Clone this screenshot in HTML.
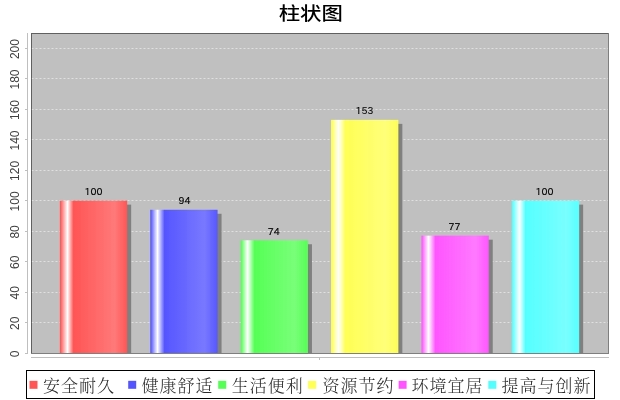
<!DOCTYPE html>
<html><head><meta charset="utf-8"><title>柱状图</title><style>
html,body{margin:0;padding:0;background:#fff;width:620px;height:400px;overflow:hidden}
svg{display:block;will-change:transform}
</style></head><body>
<svg width="620" height="400" viewBox="0 0 620 400">
<defs>
<linearGradient id="g0a" gradientUnits="userSpaceOnUse" x1="60.350" y1="0" x2="67.5" y2="0"><stop offset="0" stop-color="rgb(255,85,85)"/><stop offset="1" stop-color="#fff"/></linearGradient>
<linearGradient id="g0b" gradientUnits="userSpaceOnUse" x1="67.5" y1="0" x2="73.5" y2="0"><stop offset="0" stop-color="#fff"/><stop offset="1" stop-color="rgb(255,85,85)"/></linearGradient>
<linearGradient id="g0c" gradientUnits="userSpaceOnUse" x1="73.5" y1="0" x2="114.5" y2="0"><stop offset="0" stop-color="rgb(255,85,85)"/><stop offset="1" stop-color="rgb(255,121,121)"/></linearGradient>
<linearGradient id="g0d" gradientUnits="userSpaceOnUse" x1="114.5" y1="0" x2="127.667" y2="0"><stop offset="0" stop-color="rgb(255,121,121)"/><stop offset="1" stop-color="rgb(255,85,85)"/></linearGradient>
<linearGradient id="g1a" gradientUnits="userSpaceOnUse" x1="150.747" y1="0" x2="157.5" y2="0"><stop offset="0" stop-color="rgb(85,85,255)"/><stop offset="1" stop-color="#fff"/></linearGradient>
<linearGradient id="g1b" gradientUnits="userSpaceOnUse" x1="157.5" y1="0" x2="164.5" y2="0"><stop offset="0" stop-color="#fff"/><stop offset="1" stop-color="rgb(85,85,255)"/></linearGradient>
<linearGradient id="g1c" gradientUnits="userSpaceOnUse" x1="164.5" y1="0" x2="204.5" y2="0"><stop offset="0" stop-color="rgb(85,85,255)"/><stop offset="1" stop-color="rgb(121,121,255)"/></linearGradient>
<linearGradient id="g1d" gradientUnits="userSpaceOnUse" x1="204.5" y1="0" x2="218.063" y2="0"><stop offset="0" stop-color="rgb(121,121,255)"/><stop offset="1" stop-color="rgb(85,85,255)"/></linearGradient>
<linearGradient id="g2a" gradientUnits="userSpaceOnUse" x1="241.143" y1="0" x2="247.5" y2="0"><stop offset="0" stop-color="rgb(85,255,85)"/><stop offset="1" stop-color="#fff"/></linearGradient>
<linearGradient id="g2b" gradientUnits="userSpaceOnUse" x1="247.5" y1="0" x2="254.5" y2="0"><stop offset="0" stop-color="#fff"/><stop offset="1" stop-color="rgb(85,255,85)"/></linearGradient>
<linearGradient id="g2c" gradientUnits="userSpaceOnUse" x1="254.5" y1="0" x2="294.5" y2="0"><stop offset="0" stop-color="rgb(85,255,85)"/><stop offset="1" stop-color="rgb(121,255,121)"/></linearGradient>
<linearGradient id="g2d" gradientUnits="userSpaceOnUse" x1="294.5" y1="0" x2="308.460" y2="0"><stop offset="0" stop-color="rgb(121,255,121)"/><stop offset="1" stop-color="rgb(85,255,85)"/></linearGradient>
<linearGradient id="g3a" gradientUnits="userSpaceOnUse" x1="331.540" y1="0" x2="338.5" y2="0"><stop offset="0" stop-color="rgb(255,255,85)"/><stop offset="1" stop-color="#fff"/></linearGradient>
<linearGradient id="g3b" gradientUnits="userSpaceOnUse" x1="338.5" y1="0" x2="345.5" y2="0"><stop offset="0" stop-color="#fff"/><stop offset="1" stop-color="rgb(255,255,85)"/></linearGradient>
<linearGradient id="g3c" gradientUnits="userSpaceOnUse" x1="345.5" y1="0" x2="385.5" y2="0"><stop offset="0" stop-color="rgb(255,255,85)"/><stop offset="1" stop-color="rgb(255,255,121)"/></linearGradient>
<linearGradient id="g3d" gradientUnits="userSpaceOnUse" x1="385.5" y1="0" x2="398.857" y2="0"><stop offset="0" stop-color="rgb(255,255,121)"/><stop offset="1" stop-color="rgb(255,255,85)"/></linearGradient>
<linearGradient id="g4a" gradientUnits="userSpaceOnUse" x1="421.937" y1="0" x2="428.5" y2="0"><stop offset="0" stop-color="rgb(255,85,255)"/><stop offset="1" stop-color="#fff"/></linearGradient>
<linearGradient id="g4b" gradientUnits="userSpaceOnUse" x1="428.5" y1="0" x2="435.5" y2="0"><stop offset="0" stop-color="#fff"/><stop offset="1" stop-color="rgb(255,85,255)"/></linearGradient>
<linearGradient id="g4c" gradientUnits="userSpaceOnUse" x1="435.5" y1="0" x2="475.5" y2="0"><stop offset="0" stop-color="rgb(255,85,255)"/><stop offset="1" stop-color="rgb(255,121,255)"/></linearGradient>
<linearGradient id="g4d" gradientUnits="userSpaceOnUse" x1="475.5" y1="0" x2="489.253" y2="0"><stop offset="0" stop-color="rgb(255,121,255)"/><stop offset="1" stop-color="rgb(255,85,255)"/></linearGradient>
<linearGradient id="g5a" gradientUnits="userSpaceOnUse" x1="512.333" y1="0" x2="519.5" y2="0"><stop offset="0" stop-color="rgb(85,255,255)"/><stop offset="1" stop-color="#fff"/></linearGradient>
<linearGradient id="g5b" gradientUnits="userSpaceOnUse" x1="519.5" y1="0" x2="525.5" y2="0"><stop offset="0" stop-color="#fff"/><stop offset="1" stop-color="rgb(85,255,255)"/></linearGradient>
<linearGradient id="g5c" gradientUnits="userSpaceOnUse" x1="525.5" y1="0" x2="566.5" y2="0"><stop offset="0" stop-color="rgb(85,255,255)"/><stop offset="1" stop-color="rgb(121,255,255)"/></linearGradient>
<linearGradient id="g5d" gradientUnits="userSpaceOnUse" x1="566.5" y1="0" x2="579.650" y2="0"><stop offset="0" stop-color="rgb(121,255,255)"/><stop offset="1" stop-color="rgb(85,255,255)"/></linearGradient>
<filter id="jpg" filterUnits="userSpaceOnUse" x="-8" y="-8" width="636" height="416" color-interpolation-filters="sRGB">
<feColorMatrix in="SourceGraphic" type="matrix" values="0.3505 -0.2935 -0.057 0 0.501961  -0.1495 0.2065 -0.057 0 0.501961  -0.1495 -0.2935 0.443 0 0.501961  0 0 0 1 0" result="C"/>
<feGaussianBlur in="C" stdDeviation="0.8" result="CB"/>
<feColorMatrix in="SourceGraphic" type="matrix" values="0.299 0.587 0.114 0 0  0.299 0.587 0.114 0 0  0.299 0.587 0.114 0 0  0 0 0 1 0" result="Y"/>
<feComposite in="Y" in2="CB" operator="arithmetic" k1="0" k2="1" k3="2" k4="-1.003922"/>
</filter>
</defs>
<g filter="url(#jpg)"><rect x="-8" y="-8" width="636" height="416" fill="#fff"/>
<text transform="translate(310.8,19.5) scale(1.07,0.9)" text-anchor="middle" font-family='"Noto Sans CJK SC",sans-serif' font-size="20" font-weight="500" fill="#000">柱状图</text>
<rect x="31.0" y="33.0" width="577.0" height="320.0" fill="#c0c0c0"/>
<line x1="31.5" y1="322.5" x2="608.0" y2="322.5" stroke="#fff" stroke-opacity="0.5" stroke-width="1" stroke-dasharray="2 2"/>
<line x1="31.5" y1="292.5" x2="608.0" y2="292.5" stroke="#fff" stroke-opacity="0.5" stroke-width="1" stroke-dasharray="2 2"/>
<line x1="31.5" y1="261.5" x2="608.0" y2="261.5" stroke="#fff" stroke-opacity="0.5" stroke-width="1" stroke-dasharray="2 2"/>
<line x1="31.5" y1="231.5" x2="608.0" y2="231.5" stroke="#fff" stroke-opacity="0.5" stroke-width="1" stroke-dasharray="2 2"/>
<line x1="31.5" y1="200.5" x2="608.0" y2="200.5" stroke="#fff" stroke-opacity="0.5" stroke-width="1" stroke-dasharray="2 2"/>
<line x1="31.5" y1="170.5" x2="608.0" y2="170.5" stroke="#fff" stroke-opacity="0.5" stroke-width="1" stroke-dasharray="2 2"/>
<line x1="31.5" y1="139.5" x2="608.0" y2="139.5" stroke="#fff" stroke-opacity="0.5" stroke-width="1" stroke-dasharray="2 2"/>
<line x1="31.5" y1="109.5" x2="608.0" y2="109.5" stroke="#fff" stroke-opacity="0.5" stroke-width="1" stroke-dasharray="2 2"/>
<line x1="31.5" y1="78.5" x2="608.0" y2="78.5" stroke="#fff" stroke-opacity="0.5" stroke-width="1" stroke-dasharray="2 2"/>
<line x1="31.5" y1="48.5" x2="608.0" y2="48.5" stroke="#fff" stroke-opacity="0.5" stroke-width="1" stroke-dasharray="2 2"/>
<rect x="63.850" y="204.619" width="67.317" height="148.381" fill="#808080"/>
<rect x="154.247" y="213.762" width="67.317" height="139.238" fill="#808080"/>
<rect x="244.643" y="244.238" width="67.317" height="108.762" fill="#808080"/>
<rect x="335.040" y="123.857" width="67.317" height="229.143" fill="#808080"/>
<rect x="425.437" y="239.667" width="67.317" height="113.333" fill="#808080"/>
<rect x="515.833" y="204.619" width="67.317" height="148.381" fill="#808080"/>
<rect x="59.850" y="200.619" width="7.150" height="152.381" fill="url(#g0a)"/>
<rect x="67" y="200.619" width="6" height="152.381" fill="url(#g0b)"/>
<rect x="73" y="200.619" width="41" height="152.381" fill="url(#g0c)"/>
<rect x="114" y="200.619" width="13.167" height="152.381" fill="url(#g0d)"/>
<rect x="150.247" y="209.762" width="6.753" height="143.238" fill="url(#g1a)"/>
<rect x="157" y="209.762" width="7" height="143.238" fill="url(#g1b)"/>
<rect x="164" y="209.762" width="40" height="143.238" fill="url(#g1c)"/>
<rect x="204" y="209.762" width="13.563" height="143.238" fill="url(#g1d)"/>
<rect x="240.643" y="240.238" width="6.357" height="112.762" fill="url(#g2a)"/>
<rect x="247" y="240.238" width="7" height="112.762" fill="url(#g2b)"/>
<rect x="254" y="240.238" width="40" height="112.762" fill="url(#g2c)"/>
<rect x="294" y="240.238" width="13.960" height="112.762" fill="url(#g2d)"/>
<rect x="331.040" y="119.857" width="6.960" height="233.143" fill="url(#g3a)"/>
<rect x="338" y="119.857" width="7" height="233.143" fill="url(#g3b)"/>
<rect x="345" y="119.857" width="40" height="233.143" fill="url(#g3c)"/>
<rect x="385" y="119.857" width="13.357" height="233.143" fill="url(#g3d)"/>
<rect x="421.437" y="235.667" width="6.563" height="117.333" fill="url(#g4a)"/>
<rect x="428" y="235.667" width="7" height="117.333" fill="url(#g4b)"/>
<rect x="435" y="235.667" width="40" height="117.333" fill="url(#g4c)"/>
<rect x="475" y="235.667" width="13.753" height="117.333" fill="url(#g4d)"/>
<rect x="511.833" y="200.619" width="7.167" height="152.381" fill="url(#g5a)"/>
<rect x="519" y="200.619" width="6" height="152.381" fill="url(#g5b)"/>
<rect x="525" y="200.619" width="41" height="152.381" fill="url(#g5c)"/>
<rect x="566" y="200.619" width="13.150" height="152.381" fill="url(#g5d)"/>
<text transform="translate(93.51,195) scale(1.0,1.0)" stroke="#000" stroke-width="0.15" text-anchor="middle" font-family='"IPAPGothic","Liberation Sans",sans-serif' font-size="9.5" letter-spacing="0" text-rendering="geometricPrecision" fill="#000">100</text>
<text transform="translate(184.41,204) scale(1.0,1.0)" stroke="#000" stroke-width="0.15" text-anchor="middle" font-family='"IPAPGothic","Liberation Sans",sans-serif' font-size="9.5" letter-spacing="0" text-rendering="geometricPrecision" fill="#000">94</text>
<text transform="translate(273.65,235) scale(1.0,1.0)" stroke="#000" stroke-width="0.15" text-anchor="middle" font-family='"IPAPGothic","Liberation Sans",sans-serif' font-size="9.5" letter-spacing="0" text-rendering="geometricPrecision" fill="#000">74</text>
<text transform="translate(364.40,114) scale(1.0,1.0)" stroke="#000" stroke-width="0.15" text-anchor="middle" font-family='"IPAPGothic","Liberation Sans",sans-serif' font-size="9.5" letter-spacing="0" text-rendering="geometricPrecision" fill="#000">153</text>
<text transform="translate(454.60,230) scale(1.0,1.0)" stroke="#000" stroke-width="0.15" text-anchor="middle" font-family='"IPAPGothic","Liberation Sans",sans-serif' font-size="9.5" letter-spacing="0" text-rendering="geometricPrecision" fill="#000">77</text>
<text transform="translate(544.54,195) scale(1.0,1.0)" stroke="#000" stroke-width="0.15" text-anchor="middle" font-family='"IPAPGothic","Liberation Sans",sans-serif' font-size="9.5" letter-spacing="0" text-rendering="geometricPrecision" fill="#000">100</text>
<g fill="#000" fill-opacity="0.5"><rect x="31" y="33" width="578" height="1"/><rect x="31" y="353" width="578" height="1"/><rect x="31" y="34" width="1" height="319"/><rect x="608" y="34" width="1" height="319"/></g>
<g fill="#808080" fill-opacity="0.5">
<rect x="27" y="33" width="1" height="321"/>
<rect x="25" y="353" width="2" height="1"/>
<rect x="25" y="322" width="2" height="1"/>
<rect x="25" y="292" width="2" height="1"/>
<rect x="25" y="261" width="2" height="1"/>
<rect x="25" y="231" width="2" height="1"/>
<rect x="25" y="200" width="2" height="1"/>
<rect x="25" y="170" width="2" height="1"/>
<rect x="25" y="139" width="2" height="1"/>
<rect x="25" y="109" width="2" height="1"/>
<rect x="25" y="78" width="2" height="1"/>
<rect x="25" y="48" width="2" height="1"/>
<rect x="31" y="357" width="578" height="1"/>
<rect x="319" y="358" width="1" height="2"/>
</g>
<text transform="translate(19.0,353.80) rotate(-90)" text-anchor="middle" font-family='"Liberation Sans",sans-serif' font-size="12" fill="#404040">0</text>
<text transform="translate(19.0,323.32) rotate(-90)" text-anchor="middle" font-family='"Liberation Sans",sans-serif' font-size="12" fill="#404040">20</text>
<text transform="translate(19.0,292.85) rotate(-90)" text-anchor="middle" font-family='"Liberation Sans",sans-serif' font-size="12" fill="#404040">40</text>
<text transform="translate(19.0,262.37) rotate(-90)" text-anchor="middle" font-family='"Liberation Sans",sans-serif' font-size="12" fill="#404040">60</text>
<text transform="translate(19.0,231.90) rotate(-90)" text-anchor="middle" font-family='"Liberation Sans",sans-serif' font-size="12" fill="#404040">80</text>
<text transform="translate(19.0,201.42) rotate(-90)" text-anchor="middle" font-family='"Liberation Sans",sans-serif' font-size="12" fill="#404040">100</text>
<text transform="translate(19.0,170.94) rotate(-90)" text-anchor="middle" font-family='"Liberation Sans",sans-serif' font-size="12" fill="#404040">120</text>
<text transform="translate(19.0,140.47) rotate(-90)" text-anchor="middle" font-family='"Liberation Sans",sans-serif' font-size="12" fill="#404040">140</text>
<text transform="translate(19.0,109.99) rotate(-90)" text-anchor="middle" font-family='"Liberation Sans",sans-serif' font-size="12" fill="#404040">160</text>
<text transform="translate(19.0,79.51) rotate(-90)" text-anchor="middle" font-family='"Liberation Sans",sans-serif' font-size="12" fill="#404040">180</text>
<text transform="translate(19.0,49.04) rotate(-90)" text-anchor="middle" font-family='"Liberation Sans",sans-serif' font-size="12" fill="#404040">200</text>
<rect x="26.5" y="370.5" width="568" height="28" fill="#fff" stroke="#000" stroke-width="1"/>
<rect x="29.5" y="380.8" width="8" height="8" fill="rgb(255,85,85)"/>
<text x="42.9" y="391.5" font-family='"Noto Serif CJK SC",serif' font-size="17" letter-spacing="1" font-weight="300" fill="#2c2c2c">安全耐久</text>
<rect x="128.2" y="380.8" width="8" height="8" fill="rgb(85,85,255)"/>
<text x="141.4" y="391.5" font-family='"Noto Serif CJK SC",serif' font-size="17" letter-spacing="1" font-weight="300" fill="#2c2c2c">健康舒适</text>
<rect x="218.2" y="380.8" width="8" height="8" fill="rgb(85,255,85)"/>
<text x="231.8" y="391.5" font-family='"Noto Serif CJK SC",serif' font-size="17" letter-spacing="1" font-weight="300" fill="#2c2c2c">生活便利</text>
<rect x="308.1" y="380.8" width="8" height="8" fill="rgb(255,255,85)"/>
<text x="322.5" y="391.5" font-family='"Noto Serif CJK SC",serif' font-size="17" letter-spacing="1" font-weight="300" fill="#2c2c2c">资源节约</text>
<rect x="398.6" y="380.8" width="8" height="8" fill="rgb(255,85,255)"/>
<text x="411.4" y="391.5" font-family='"Noto Serif CJK SC",serif' font-size="17" letter-spacing="1" font-weight="300" fill="#2c2c2c">环境宜居</text>
<rect x="488.3" y="380.8" width="8" height="8" fill="rgb(85,255,255)"/>
<text x="501.6" y="391.5" font-family='"Noto Serif CJK SC",serif' font-size="17" letter-spacing="1" font-weight="300" fill="#2c2c2c">提高与创新</text>
</g>
</svg>
</body></html>
